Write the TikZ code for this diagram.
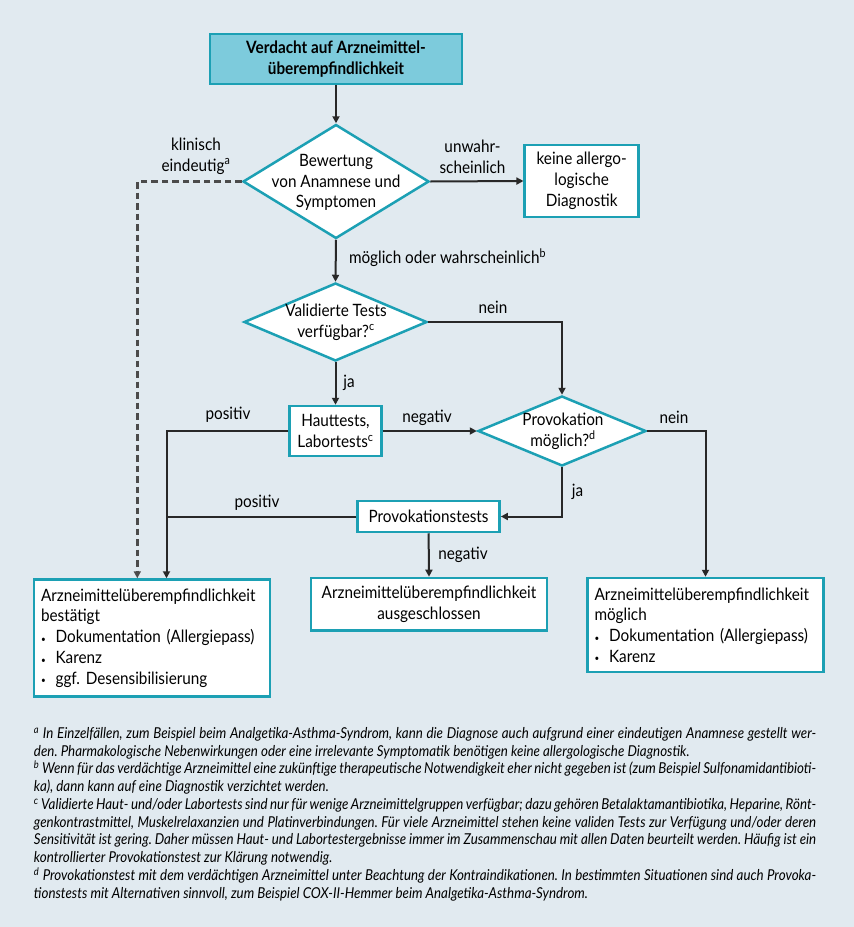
\documentclass[tikz,border=0pt]{standalone}
\usepackage{fontspec}
\setmainfont{Lato}[FakeStretch=0.9]
\newfontfamily\notefont{Lato}[FakeStretch=0.89]
\usetikzlibrary{shapes.geometric,arrows.meta}
\definecolor{bg}{RGB}{225,234,240}
\definecolor{tealb}{RGB}{28,160,180}
\definecolor{tfill}{RGB}{125,203,220}
\definecolor{ln}{RGB}{40,40,40}
\definecolor{dsh}{RGB}{75,75,75}
\newcommand\mainsz{\fontsize{17}{20.8}\selectfont}
\newcommand\notesz{\notefont\fontsize{15}{17.75}\selectfont\itshape}
\newcommand\bul{\makebox[14.6pt][l]{\raisebox{0.5pt}{\small•}}}
\frenchspacing
\begin{document}
\begin{tikzpicture}[x=1pt,y=-1pt,
  box/.style={draw=tealb, line width=2.5pt, fill=white, inner sep=0pt, align=center, font=\mainsz, text=black},
  dia/.style={draw=tealb, line width=2.5pt, fill=white, shape=diamond, inner sep=0pt},
  dtext/.style={align=center, font=\mainsz, inner sep=0pt},
  lbl/.style={font=\mainsz, inner sep=0pt, align=center},
  conn/.style={draw=ln, line width=2pt},
  arr/.style={conn, -{Triangle[length=7pt,width=7pt]}},
  dsharr/.style={draw=dsh, line width=2.4pt, dash pattern=on 6.5pt off 4pt, -{Triangle[length=7pt,width=7pt]}}
]
\fill[bg] (0,0) rectangle (854,927);
\useasboundingbox (0,0) rectangle (854,927);

% nodes
\node[box, fill=tfill, minimum width=252pt, minimum height=50pt, font=\mainsz\bfseries] (title) at (336,59) {Verdacht auf Arzneimittel-\\überempfindlichkeit};
\node[dia, minimum width=186pt, minimum height=114pt] (d1) at (336,181.5) {};
\node[dtext] (d1t) at (336,182.5) {Bewertung\\von Anamnese und\\Symptomen};
\node[box, minimum width=114pt, minimum height=72pt] (keine) at (581.7,181) {keine allergo-\\logische\\Diagnostik};
\node[dia, minimum width=183pt, minimum height=78pt] (d2) at (335.5,322) {};
\node[dtext] (d2t) at (336,322) {Validierte Tests\\verfügbar?\textsuperscript{c}};
\node[box, minimum width=92pt, minimum height=50pt] (haut) at (335.5,431) {Hauttests,\\Labortests\textsuperscript{c}};
\node[dia, minimum width=168pt, minimum height=70pt] (d3) at (562,431) {};
\node[dtext] (d3t) at (563,431) {Provokation\\möglich?\textsuperscript{d}};
\node[box, minimum width=142pt, minimum height=31pt] (prov) at (428.6,516.5) {Provokationstests};
\node[box, minimum width=236pt, minimum height=117pt, text width=222pt, inner xsep=7pt, align=left] (bl) at (152,638)
  {Arzneimittelüberempfindlichkeit\\bestätigt\\\bul Dokumentation (Allergiepass)\\\bul Karenz\\\bul ggf. Desensibilisierung};
\node[box, minimum width=235.6pt, minimum height=52.7pt] (mid) at (429,604.3) {Arzneimittelüberempfindlichkeit\\ausgeschlossen};
\node[box, minimum width=236pt, minimum height=94pt, text width=222pt, inner xsep=7pt, align=left] (br) at (705.5,625)
  {Arzneimittelüberempfindlichkeit\\möglich\\\bul Dokumentation (Allergiepass)\\\bul Karenz};

\coordinate (xdash) at (137.3,0);
\coordinate (xsol) at (166.5,0);

% connectors
\draw[arr] (title.south) -- (d1.north);
\draw[arr] (d1.east) -- (keine.west);
\draw[dsharr] (d1.west) -| (bl.north -| xdash);
\draw[arr] (d1.south) -- (d2.north);
\draw[arr] (d2.east) -| (d3.north);
\draw[arr] (d2.south) -- (haut.north);
\draw[arr] (haut.east) -- (d3.west);
\draw[arr] (haut.west) -| (bl.north -| xsol);
\draw[arr] (d3.east) -| (br.north);
\draw[arr] (d3.south) |- (prov.east);
\draw[conn] (prov.west) -- (prov.west -| xsol);
\draw[arr] (prov.south) -- (mid.north);

% labels
\node[lbl] (l1) at (196,156) {klinisch\\eindeutig\textsuperscript{a}};
\node[lbl] (l2) at (472.5,157) {unwahr-\\scheinlich};
\node[lbl, anchor=west] (l3) at (348.8,258) {möglich oder wahrscheinlich\textsuperscript{b}};
\node[lbl] (l4) at (493,307.7) {nein};
\node[lbl] (l5) at (349,382.7) {ja};
\node[lbl] (l6) at (228,415) {positiv};
\node[lbl] (l7) at (427,417.7) {negativ};
\node[lbl] (l8) at (674,417.7) {nein};
\node[lbl] (l9) at (577.6,492) {ja};
\node[lbl] (l10) at (257,503) {positiv};
\node[lbl] (l11) at (463,555) {negativ};

% footnotes
\node[anchor=north west, inner sep=0pt, text width=782pt, align=justify, font=\notesz] (notes) at (33.8,727) {%
\textsuperscript{a} In Einzelfällen, zum Beispiel beim Analgetika-Asthma-Syndrom, kann die Diagnose auch aufgrund einer eindeutigen Anamnese gestellt wer-\linebreak den. Pharmakologische Nebenwirkungen oder eine irrelevante Symptomatik benötigen keine allergologische Diagnostik.\par
\textsuperscript{b} Wenn für das verdächtige Arzneimittel eine zukünftige therapeutische Notwendigkeit eher nicht gegeben ist (zum Beispiel Sulfonamidantibioti-\linebreak ka), dann kann auf eine Diagnostik verzichtet werden.\par
\textsuperscript{c} Validierte Haut- und/oder Labortests sind nur für wenige Arzneimittelgruppen verfügbar; dazu gehören Betalaktamantibiotika, Heparine, Rönt-\linebreak genkontrastmittel, Muskelrelaxanzien und Platinverbindungen. Für viele Arzneimittel stehen keine validen Tests zur Verfügung und/oder deren\linebreak Sensitivität ist gering. Daher müssen Haut- und Labortestergebnisse immer im Zusammenschau mit allen Daten beurteilt werden. Häufig ist ein\linebreak kontrollierter Provokationstest zur Klärung notwendig.\par
\textsuperscript{d} Provokationstest mit dem verdächtigen Arzneimittel unter Beachtung der Kontraindikationen. In bestimmten Situationen sind auch Provoka-\linebreak tionstests mit Alternativen sinnvoll, zum Beispiel COX-II-Hemmer beim Analgetika-Asthma-Syndrom.};
\end{tikzpicture}
\end{document}
